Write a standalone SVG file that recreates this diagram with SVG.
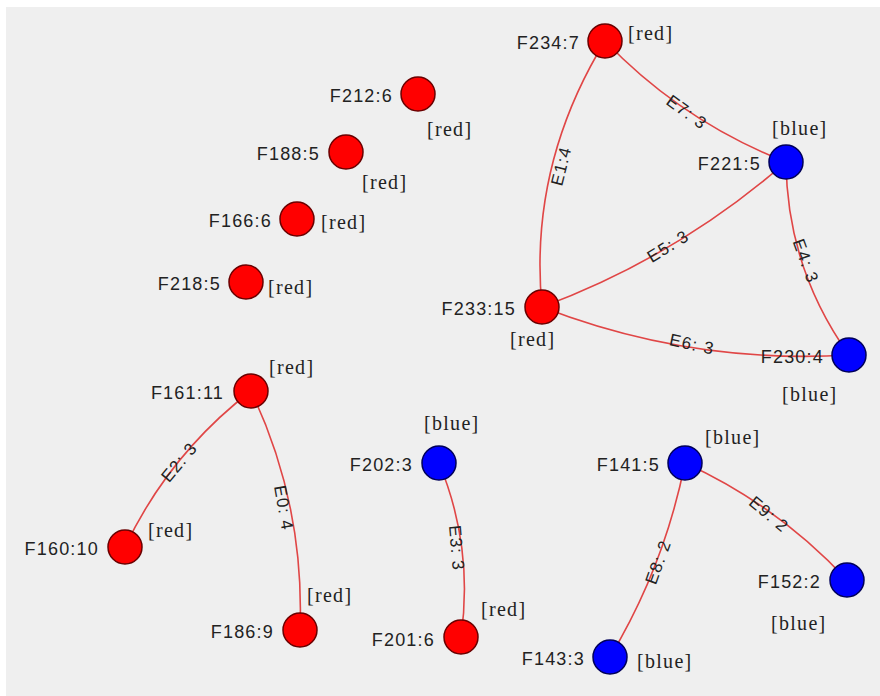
<svg xmlns="http://www.w3.org/2000/svg" width="880" height="696" viewBox="0 0 880 696">
<style>
.bg{fill:#efefef}
.e{fill:none;stroke:#e04646;stroke-width:1.6}
.r{fill:#ff0000;stroke:#6a0000;stroke-width:1.5}
.b{fill:#0000ff;stroke:#00005a;stroke-width:1.5}
.n{font-family:"Liberation Sans",Arial,sans-serif;font-size:18px;letter-spacing:1.2px;fill:#222;text-anchor:end}
.el{font-family:"Liberation Sans",Arial,sans-serif;font-size:17px;letter-spacing:1.2px;fill:#222;text-anchor:middle}
.t{font-family:"Liberation Serif","Times New Roman",serif;font-size:20px;letter-spacing:1.3px;fill:#222}
</style>
<rect x="0" y="0" width="880" height="696" fill="#ffffff"/>
<rect class="bg" x="6" y="7" width="874" height="689"/>
<g id="edges">
<path class="e" d="M605,41 Q528.5,166 542,307"/>
<path class="e" d="M605,41 Q682.2,121.4 786,162"/>
<path class="e" d="M542,307 Q677.3,256.8 786,162"/>
<path class="e" d="M786,162 Q787.1,268.4 849,355"/>
<path class="e" d="M542,307 Q690.3,364.6 849,355"/>
<path class="e" d="M251,391 Q169.3,453.9 125,547"/>
<path class="e" d="M251,391 Q304.9,504.5 300,630"/>
<path class="e" d="M439,463 Q473.8,547 461,637"/>
<path class="e" d="M685,463 Q664.3,566.5 610,657"/>
<path class="e" d="M685,463 Q777.7,505.3 847,580"/>
<text class="el" transform="translate(561,166) rotate(-76)" dy="6">E1:4</text>
<text class="el" transform="translate(687,112) rotate(36)" dy="6">E7: 3</text>
<text class="el" transform="translate(668,246) rotate(-32)" dy="6">E5: 3</text>
<text class="el" transform="translate(806,261) rotate(70)" dy="6">E4: 3</text>
<text class="el" transform="translate(692,344) rotate(12)" dy="6">E6: 3</text>
<text class="el" transform="translate(179,462) rotate(-50)" dy="6">E2: 3</text>
<text class="el" transform="translate(284,508) rotate(80)" dy="6">E0: 4</text>
<text class="el" transform="translate(457,548) rotate(85)" dy="6">E3: 3</text>
<text class="el" transform="translate(658,562) rotate(-70)" dy="6">E8: 2</text>
<text class="el" transform="translate(769,514) rotate(40)" dy="6">E9: 2</text>
</g>
<g id="F212_6"><circle class="r" cx="418" cy="94" r="17"/><text class="n" x="393" y="102">F212:6</text><text class="t" x="427" y="136">[red]</text></g>
<g id="F188_5"><circle class="r" cx="346" cy="152" r="17"/><text class="n" x="320" y="160">F188:5</text><text class="t" x="362" y="189">[red]</text></g>
<g id="F166_6"><circle class="r" cx="297" cy="219" r="17"/><text class="n" x="272" y="227">F166:6</text><text class="t" x="321" y="229">[red]</text></g>
<g id="F218_5"><circle class="r" cx="246" cy="282" r="17"/><text class="n" x="221" y="290">F218:5</text><text class="t" x="268" y="294">[red]</text></g>
<g id="F234_7"><circle class="r" cx="605" cy="41" r="17"/><text class="n" x="580" y="49">F234:7</text><text class="t" x="628" y="40">[red]</text></g>
<g id="F221_5"><circle class="b" cx="786" cy="162" r="17"/><text class="n" x="761" y="170">F221:5</text><text class="t" x="772" y="135">[blue]</text></g>
<g id="F233_15"><circle class="r" cx="542" cy="307" r="17"/><text class="n" x="516" y="315">F233:15</text><text class="t" x="510" y="346">[red]</text></g>
<g id="F230_4"><circle class="b" cx="849" cy="355" r="17"/><text class="n" x="824" y="363">F230:4</text><text class="t" x="782" y="401">[blue]</text></g>
<g id="F161_11"><circle class="r" cx="251" cy="391" r="17"/><text class="n" x="224" y="399">F161:11</text><text class="t" x="269" y="374">[red]</text></g>
<g id="F160_10"><circle class="r" cx="125" cy="547" r="17"/><text class="n" x="99" y="555">F160:10</text><text class="t" x="148" y="537">[red]</text></g>
<g id="F186_9"><circle class="r" cx="300" cy="630" r="17"/><text class="n" x="274" y="638">F186:9</text><text class="t" x="307" y="602">[red]</text></g>
<g id="F202_3"><circle class="b" cx="439" cy="463" r="17"/><text class="n" x="413" y="471">F202:3</text><text class="t" x="424" y="430">[blue]</text></g>
<g id="F201_6"><circle class="r" cx="461" cy="637" r="17"/><text class="n" x="435" y="646">F201:6</text><text class="t" x="481" y="616">[red]</text></g>
<g id="F141_5"><circle class="b" cx="685" cy="463" r="17"/><text class="n" x="660" y="471">F141:5</text><text class="t" x="705" y="444">[blue]</text></g>
<g id="F152_2"><circle class="b" cx="847" cy="580" r="17"/><text class="n" x="821" y="588">F152:2</text><text class="t" x="771" y="630">[blue]</text></g>
<g id="F143_3"><circle class="b" cx="610" cy="657" r="17"/><text class="n" x="585" y="665">F143:3</text><text class="t" x="637" y="668">[blue]</text></g>
</svg>
